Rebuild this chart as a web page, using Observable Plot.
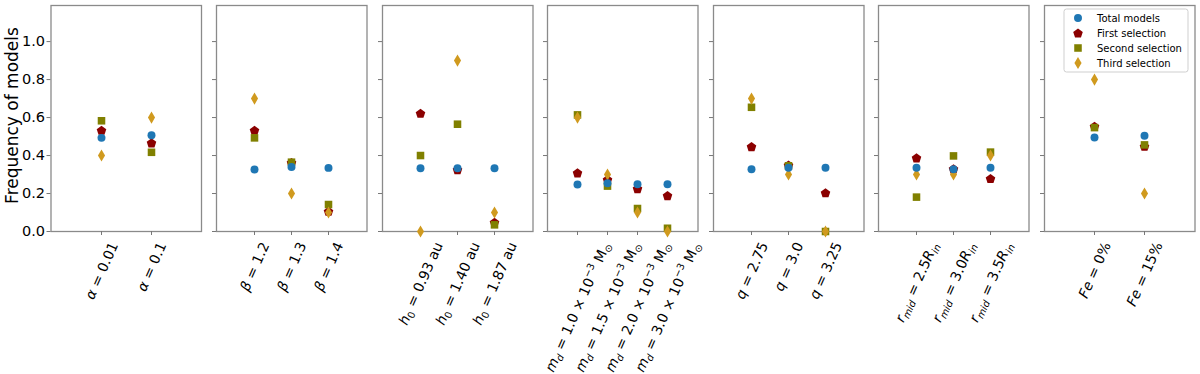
<!DOCTYPE html>
<html><head><meta charset="utf-8">
<script src="https://cdn.jsdelivr.net/npm/d3@7"></script>
<script src="https://cdn.jsdelivr.net/npm/@observablehq/plot@0.6"></script>
<style>
body{margin:0;background:#fff;font-family:"DejaVu Sans",sans-serif;}
#chart{position:relative;width:1200px;height:374px;overflow:hidden;background:#fff;}
#chart svg{position:absolute;top:0;overflow:visible;background:transparent;}
</style></head><body><div id="chart"></div>
<script>
// ---------- data ----------
const seriesNames = ["Total models", "First selection", "Second selection", "Third selection"];
const seriesColors = ["#1f77b4", "#8b0000", "#808000", "#d09a1e"];

const alphaLabels = ["<i>α</i> = 0.01", "<i>α</i> = 0.1"];
const alphaTotal  = [0.493, 0.507];
const alphaFirst  = [0.533, 0.467];
const alphaSecond = [0.583, 0.417];
const alphaThird  = [0.400, 0.600];

const betaLabels = ["<i>β</i> = 1.2", "<i>β</i> = 1.3", "<i>β</i> = 1.4"];
const betaTotal  = [0.326, 0.340, 0.335];
const betaFirst  = [0.533, 0.363, 0.107];
const betaSecond = [0.493, 0.365, 0.142];
const betaThird  = [0.700, 0.200, 0.100];

const h0Labels = ["<i>h</i><sub>0</sub> = 0.93 au", "<i>h</i><sub>0</sub> = 1.40 au", "<i>h</i><sub>0</sub> = 1.87 au"];
const h0Total  = [0.333, 0.333, 0.333];
const h0First  = [0.623, 0.326, 0.049];
const h0Second = [0.400, 0.565, 0.035];
const h0Third  = [0.000, 0.900, 0.100];

const mdLabels = [
  "<i>m</i><isub>d</isub> = 1.0 × 10<sup>−3</sup> M<sub>⊙</sub>",
  "<i>m</i><isub>d</isub> = 1.5 × 10<sup>−3</sup> M<sub>⊙</sub>",
  "<i>m</i><isub>d</isub> = 2.0 × 10<sup>−3</sup> M<sub>⊙</sub>",
  "<i>m</i><isub>d</isub> = 3.0 × 10<sup>−3</sup> M<sub>⊙</sub>"];
const mdTotal  = [0.248, 0.254, 0.249, 0.249];
const mdFirst  = [0.309, 0.274, 0.226, 0.189];
const mdSecond = [0.614, 0.239, 0.121, 0.017];
const mdThird  = [0.600, 0.300, 0.100, 0.000];

const qLabels = ["<i>q</i> = 2.75", "<i>q</i> = 3.0", "<i>q</i> = 3.25"];
const qTotal  = [0.328, 0.336, 0.336];
const qFirst  = [0.447, 0.350, 0.204];
const qSecond = [0.654, 0.346, 0.000];
const qThird  = [0.700, 0.300, 0.000];

const rmidLabels = [
  "<i>r</i><isub>mid</isub> = 2.5<i>R</i><isub>in</isub>",
  "<i>r</i><isub>mid</isub> = 3.0<i>R</i><isub>in</isub>",
  "<i>r</i><isub>mid</isub> = 3.5<i>R</i><isub>in</isub>"];
const rmidTotal  = [0.336, 0.328, 0.336];
const rmidFirst  = [0.388, 0.330, 0.279];
const rmidSecond = [0.181, 0.398, 0.418];
const rmidThird  = [0.300, 0.300, 0.400];

const feLabels = ["<i>Fe</i> = 0%", "<i>Fe</i> = 15%"];
const feTotal  = [0.495, 0.504];
const feFirst  = [0.554, 0.449];
const feSecond = [0.547, 0.456];
const feThird  = [0.800, 0.200];

const yTicks = [0, 0.2, 0.4, 0.6, 0.8, 1.0];
const yLabel = "Frequency of models";

// ---------- layout ----------
const H = 374, TOP = 5, BOTTOM_Y = 231, PW = 150.5;
const panelLeft = i => 50.5 + i * 165.5;
const FS = 14, ROT = 66;

// ---------- symbols ----------
const circleSym = {draw(ctx, size) { const r = Math.sqrt(size / Math.PI) * 0.95; ctx.moveTo(r, 0); ctx.arc(0, 0, r, 0, 2 * Math.PI); }};
const pentSym = {draw(ctx, size) { const R = Math.sqrt(size / Math.PI) * 1.2;
  for (let k = 0; k < 5; k++) { const a = -Math.PI / 2 + k * 2 * Math.PI / 5; const x = R * Math.cos(a), y = R * Math.sin(a) + R * 0.1; k ? ctx.lineTo(x, y) : ctx.moveTo(x, y); }
  ctx.closePath(); }};
const squareSym = {draw(ctx, size) { const h = Math.sqrt(size / Math.PI) * 0.9; ctx.rect(-h, -h, 2 * h, 2 * h); }};
const diamondSym = {draw(ctx, size) { const s = Math.sqrt(size / Math.PI); const hh = s * 1.45, hw = s * 0.85;
  ctx.moveTo(0, -hh); ctx.lineTo(hw, 0); ctx.lineTo(0, hh); ctx.lineTo(-hw, 0); ctx.closePath(); }};
const seriesSymbols = [circleSym, pentSym, squareSym, diamondSym];

const panels = [
  [alphaLabels, [alphaTotal, alphaFirst, alphaSecond, alphaThird]],
  [betaLabels, [betaTotal, betaFirst, betaSecond, betaThird]],
  [h0Labels, [h0Total, h0First, h0Second, h0Third]],
  [mdLabels, [mdTotal, mdFirst, mdSecond, mdThird]],
  [qLabels, [qTotal, qFirst, qSecond, qThird]],
  [rmidLabels, [rmidTotal, rmidFirst, rmidSecond, rmidThird]],
  [feLabels, [feTotal, feFirst, feSecond, feThird]]
];

const chart = document.getElementById("chart");
const drawOrder = [1, 2, 3, 0];

function segments(s) {
  const re = /<(i|sub|sup|isub)>(.*?)<\/\1>|([^<]+)/g; const out = []; let m;
  while ((m = re.exec(s))) out.push(m[3] !== undefined ? {t: m[3], k: "n"} : {t: m[2], k: m[1]});
  return out;
}
function richText(parent, s, fs) {
  const ns = "http://www.w3.org/2000/svg";
  const t = document.createElementNS(ns, "text");
  t.setAttribute("font-family", "DejaVu Sans");
  t.setAttribute("font-size", fs);
  t.setAttribute("fill", "#000");
  t.setAttribute("text-anchor", "middle");
  t.setAttribute("y", (0.35 * fs).toFixed(2));
  let shift = 0;
  for (const seg of segments(s)) {
    const sp = document.createElementNS(ns, "tspan");
    sp.textContent = seg.t;
    let target = 0;
    if (seg.k === "sub" || seg.k === "isub") { target = 0.22 * fs; sp.setAttribute("font-size", (0.7 * fs).toFixed(2)); }
    if (seg.k === "sup") { target = -0.42 * fs; sp.setAttribute("font-size", (0.7 * fs).toFixed(2)); }
    if (seg.k === "i" || seg.k === "isub") sp.setAttribute("font-style", "italic");
    const dy = target - shift; shift = target;
    if (dy) sp.setAttribute("dy", dy.toFixed(2));
    t.appendChild(sp);
  }
  parent.appendChild(t);
  return t;
}

panels.forEach(([labels, vals], i) => {
  const ml = i === 0 ? 50.5 : 12, mr = 2;
  const series = drawOrder.map(s => labels.map((c, j) => ({cat: c, v: vals[s][j]})));
  const marks = [
    Plot.frame({stroke: "#8a8a8a", strokeWidth: 1.3}),
    Plot.axisY({ticks: yTicks, tickSize: 4, tickPadding: 2, stroke: "#777", fill: "#000", fontSize: 14.5,
      tickFormat: i === 0 ? d3.format(".1f") : () => "", label: null}),
    Plot.axisX({tickSize: 4, stroke: "#777", fontSize: FS, tickFormat: d => d, label: null}),
    ...drawOrder.map((s, k) => Plot.dot(series[k], {x: "cat", y: "v", r: 4.2, fill: seriesColors[s], symbol: seriesSymbols[s]}))
  ];
  if (i === 0) marks.push(Plot.text([yLabel], {frameAnchor: "left", rotate: -90, textAnchor: "middle", dx: -38, dy: -3, fontSize: 17, fill: "#000"}));
  const svg = Plot.plot({
    width: ml + PW + mr, height: H, marginLeft: ml, marginRight: mr, marginTop: TOP, marginBottom: H - BOTTOM_Y,
    style: {fontFamily: "DejaVu Sans", background: "transparent", overflow: "visible"},
    x: {type: "point", domain: labels, padding: 1, label: null},
    y: {domain: [0, 1.19], label: null},
    marks
  });
  svg.style.left = (panelLeft(i) - ml) + "px";
  chart.appendChild(svg);
  // rich rotated tick labels
  svg.querySelectorAll('g[aria-label="x-axis tick label"] text').forEach(t => {
    const m = t.getCTM();
    const x = m.e;
    const raw = t.textContent;
    t.remove();
    const nt = richText(svg, raw, FS);
    const L = nt.getComputedTextLength();
    const th = ROT * Math.PI / 180;
    const bh = L * Math.sin(th) + FS * Math.cos(th);
    const cy = BOTTOM_Y + 9 + bh / 2;
    nt.setAttribute("transform", `translate(${x.toFixed(2)},${cy.toFixed(2)}) rotate(${-ROT})`);
  });
});

// ---------- legend ----------
const leg = d3.select(chart).append("svg").attr("width", 1200).attr("height", H).style("left", "0px");
const lx = 1064, ly = 9, lw = 124, lh = 63;
leg.append("rect").attr("x", lx).attr("y", ly).attr("width", lw).attr("height", lh).attr("rx", 2.5)
  .attr("fill", "#fff").attr("fill-opacity", 0.85).attr("stroke", "#cfcfcf").attr("stroke-width", 1);
seriesNames.forEach((name, s) => {
  const y = 18 + s * 15;
  leg.append("path").attr("d", d3.symbol(seriesSymbols[s], 17.6 * Math.PI)()).attr("transform", `translate(1078,${y})`).attr("fill", seriesColors[s]);
  leg.append("text").attr("x", 1097).attr("y", y).attr("dy", "0.35em").attr("font-family", "DejaVu Sans").attr("font-size", 10).attr("fill", "#000").text(name);
});
</script></body></html>
